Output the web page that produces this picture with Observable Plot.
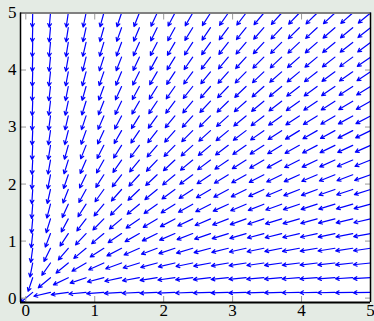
<!DOCTYPE html>
<html><head><meta charset="utf-8">
<script src="https://cdn.jsdelivr.net/npm/d3@7"></script>
<script src="https://cdn.jsdelivr.net/npm/@observablehq/plot@0.6"></script>
<style>html,body{margin:0;padding:0;background:#e4ebe4;} svg{display:block;}</style>
</head><body><div id="chart"></div>
<script>
// grid of arrow tails
const xGrid = [0.1, 0.358, 0.616, 0.874, 1.132, 1.389, 1.647, 1.905, 2.163, 2.421, 2.679, 2.937, 3.195, 3.453, 3.711, 3.968, 4.226, 4.484, 4.742, 5.0];
const yGrid = [0.1, 0.358, 0.616, 0.874, 1.132, 1.389, 1.647, 1.905, 2.163, 2.421, 2.679, 2.937, 3.195, 3.453, 3.711, 3.968, 4.226, 4.484, 4.742, 5.0];
const arrowLength = 0.25;           // normalized arrow length (data units)
const xTicks = [0, 1, 2, 3, 4, 5];
const yTicks = [0, 1, 2, 3, 4, 5];
const xDomain = [-0.077, 5];
const yDomain = [-0.077, 5];

// vector field (u, v) = (-x, -y), normalized
const field = [];
for (const y of yGrid) for (const x of xGrid) {
  const r = Math.hypot(x, y);
  field.push({x, y, x2: x - arrowLength * x / r, y2: y - arrowLength * y / r});
}

const fmt = d3.format("d");
const tickStyle = {stroke: "#999", strokeWidth: 1, tickSize: -6, tickFormat: () => "", label: null};
const chart = Plot.plot({
  width: 374, height: 321,
  marginLeft: 20, marginRight: 4, marginTop: 12.5, marginBottom: 19,
  x: {domain: xDomain},
  y: {domain: yDomain},
  style: {background: "transparent", fontFamily: "'Liberation Serif', 'DejaVu Serif', serif", fontSize: "17px", color: "black"},
  marks: [
    Plot.frame({fill: "white", stroke: null}),
    Plot.arrow(field, {x1: "x", y1: "y", x2: "x2", y2: "y2", stroke: "blue", strokeWidth: 1.2, headLength: 5, headAngle: 55}),
    Plot.axisX(xTicks, {anchor: "bottom", ...tickStyle}),
    Plot.axisX(xTicks, {anchor: "top", ...tickStyle}),
    Plot.axisY(yTicks, {anchor: "left", ...tickStyle}),
    Plot.axisY(yTicks, {anchor: "right", ...tickStyle}),
    Plot.axisX(xTicks, {anchor: "bottom", tickSize: 0, tickPadding: 1, label: null, fill: "black", tickFormat: fmt}),
    Plot.axisY(yTicks, {anchor: "left", tickSize: 0, tickPadding: 4, label: null, fill: "black", tickFormat: fmt}),
    Plot.ruleY([yDomain[1]], {stroke: "#808080", strokeWidth: 2}),
    Plot.ruleX([xDomain[0]], {stroke: "black", strokeWidth: 1.5}),
    Plot.ruleX([xDomain[1]], {stroke: "black", strokeWidth: 1.5}),
    Plot.ruleY([yDomain[0]], {stroke: "black", strokeWidth: 2})
  ]
});
document.getElementById("chart").appendChild(chart);
</script>
</body></html>
